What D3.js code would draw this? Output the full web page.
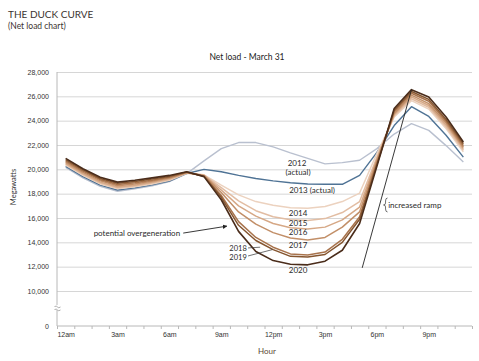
<!DOCTYPE html>
<html>
<head>
<meta charset="utf-8">
<script src="https://cdn.jsdelivr.net/npm/d3@7"></script>
<style>
  body { margin: 0; background: #fff; }
  svg { font-family: Lato, "Noto Sans", sans-serif; }
  .axis path, .axis line { stroke: #b8b8b8; }
  .axis text { fill: #333; font-size: 7px; }
  .grid line { stroke: #d6d6d6; }
  .grid path { display: none; }
</style>
</head>
<body>
<svg id="chart" width="479" height="361"></svg>
<script>
const hours = [0,1,2,3,4,5,6,7,8,9,10,11,12,13,14,15,16,17,18,19,20,21,22,23];
const hourLabels = ["12am","3am","6am","9am","12pm","3pm","6pm","9pm"];
const yTicks = [0,10000,12000,14000,16000,18000,20000,22000,24000,26000,28000];

const y2012 = [20150,19300,18600,18200,18400,18650,19000,19650,20700,21700,22200,22200,21850,21350,20900,20450,20550,20750,21700,22900,23750,23200,21950,20600];
const y2013 = [20250,19400,18700,18300,18480,18720,19040,19660,20000,19800,19500,19250,19050,18900,18800,18780,18770,19500,21400,23600,25150,24350,22800,21000];
const y2014 = [20350,19500,18800,18400,18560,18800,19100,19680,19550,18700,17900,17350,17050,16850,16800,16950,17350,18050,21300,24300,25650,24950,23350,21450];
const y2015 = [20420,19580,18880,18480,18630,18870,19160,19700,19530,18500,17400,16600,16100,15850,15800,15950,16450,17350,21000,24400,25800,25100,23500,21580];
const y2016 = [20500,19650,18950,18550,18700,18940,19220,19720,19500,18300,17000,16150,15550,15200,15100,15250,15850,16900,20850,24500,25950,25250,23650,21700];
const y2017 = [20600,19750,19050,18650,18800,19020,19280,19740,19480,18100,16500,15500,14800,14350,14200,14400,15250,16500,20700,24600,26100,25400,23800,21820];
const y2018 = [20700,19850,19150,18750,18900,19100,19350,19760,19450,17850,15700,14400,13600,13050,12950,13200,14250,16100,20500,24750,26250,25600,23950,21950];
const y2019 = [20800,19950,19250,18850,19000,19200,19420,19780,19420,17700,15400,14150,13400,12850,12800,13000,14000,15900,20400,24850,26400,25750,24100,22100];
const y2020 = [20900,20050,19350,18950,19100,19300,19500,19800,19400,17500,14900,13250,12500,12200,12150,12450,13350,15550,20250,25000,26550,25950,24300,22250];

const series = [
  { name: "2012", values: y2012, color: "#b9c0cf", width: 1.4 },
  { name: "2013", values: y2013, color: "#4f7395", width: 1.4 },
  { name: "2014", values: y2014, color: "#ecd2bf", width: 1.5 },
  { name: "2015", values: y2015, color: "#e2bda3", width: 1.5 },
  { name: "2016", values: y2016, color: "#d6a886", width: 1.5 },
  { name: "2017", values: y2017, color: "#c28f68", width: 1.5 },
  { name: "2018", values: y2018, color: "#a8734c", width: 1.5 },
  { name: "2019", values: y2019, color: "#85552f", width: 1.5 },
  { name: "2020", values: y2020, color: "#4a2c1a", width: 1.6 }
];

// annotation anchors in data units (hour, MW)
const yearLabels = [
  { text: "2012", h: 13.38, v: 20500, size: 8 },
  { text: "(actual)", h: 13.44, v: 19750, size: 8 },
  { text: "2013 (actual)", h: 14.25, v: 18300, size: 8 },
  { text: "2014", h: 13.44, v: 16420, size: 8 },
  { text: "2015", h: 13.44, v: 15560, size: 8 },
  { text: "2016", h: 13.44, v: 14820, size: 8 },
  { text: "2017", h: 13.44, v: 13740, size: 8 },
  { text: "2018", h: 9.97, v: 13520, size: 7.5 },
  { text: "2019", h: 9.97, v: 12830, size: 7.5 }, 
  { text: "2020", h: 13.44, v: 11730, size: 8 }
];
const leaders = [
  { h1: 10.55, v1: 13540, h2: 11.25, v2: 13600 },
  { h1: 10.55, v1: 12880, h2: 11.95, v2: 13400 }
];
const ramp = { h1: 17.15, v1: 11900, h2: 20, v2: 26550 };
const overgen = { h1: 6.8, v1: 14760, h2: 9.32, v2: 15330 };

const svg = d3.select("#chart");

const x = d3.scaleLinear().domain([-0.5, 23.5]).range([57, 472]);
const y = d3.scaleLinear().domain([0, 10000, 28000]).range([326, 291, 72]);

// titles
svg.append("text").attr("x", 8).attr("y", 18)
  .attr("font-size", 10).attr("fill", "#3b3330").text("THE DUCK CURVE");
svg.append("text").attr("x", 8).attr("y", 29)
  .attr("font-size", 8.5).attr("fill", "#3b3330").text("(Net load chart)");
svg.append("text").attr("x", 247).attr("y", 60).attr("text-anchor", "middle")
  .attr("font-size", 8.5).attr("fill", "#222").text("Net load - March 31");

// gridlines
svg.append("g").attr("class", "grid")
  .attr("transform", "translate(57,0)")
  .call(d3.axisLeft(y).tickValues(yTicks.filter(d => d > 0)).tickSize(-415).tickFormat(""));

// y axis
const yAxis = svg.append("g").attr("class", "axis")
  .attr("transform", "translate(57,0)")
  .call(d3.axisLeft(y).tickValues(yTicks).tickSize(0).tickPadding(8).tickFormat(d3.format(",")));
yAxis.select(".domain").remove();
svg.append("line").attr("x1", 57).attr("x2", 57).attr("y1", y(28000)).attr("y2", 326)
  .attr("stroke", "#b8b8b8");
// axis break mark
svg.append("rect").attr("x", 54).attr("y", 305).attr("width", 6).attr("height", 5).attr("fill", "#fff");
svg.append("path")
  .attr("d", "M54.5,306.5 q2,-1 3,0.5 t3,0 M54.5,309.5 q2,-1 3,0.5 t3,0")
  .attr("fill", "none").attr("stroke", "#999").attr("stroke-width", 0.8);

// x axis
const xTickAxis = svg.append("g").attr("class", "axis")
  .attr("transform", "translate(0,326)")
  .call(d3.axisBottom(x).tickValues(hours.map(h => h - 0.5).concat([23.5])).tickSize(3).tickFormat(""));
xTickAxis.select(".domain").attr("d", "M57,0H472");
svg.append("g").attr("class", "axis")
  .attr("transform", "translate(0,326)")
  .call(d3.axisBottom(x).tickValues([0,3,6,9,12,15,18,21]).tickSize(0).tickPadding(6)
    .tickFormat((d, i) => hourLabels[i]))
  .select(".domain").remove();

svg.append("text").attr("x", 267).attr("y", 354).attr("text-anchor", "middle")
  .attr("font-size", 8).attr("fill", "#5a4632").text("Hour");
svg.append("text").attr("transform", "translate(16,187) rotate(-90)")
  .attr("text-anchor", "middle").attr("font-size", 7.5).attr("fill", "#333").text("Megawatts");

// lines
const line = d3.line().x((d, i) => x(hours[i])).y(d => y(d));
svg.append("g").selectAll("path").data(series).join("path")
  .attr("d", d => line(d.values))
  .attr("fill", "none")
  .attr("stroke", d => d.color)
  .attr("stroke-width", d => d.width)
  .attr("stroke-linejoin", "round");

// year labels
svg.append("g").selectAll("text").data(yearLabels).join("text")
  .attr("x", d => x(d.h)).attr("y", d => y(d.v) + 3)
  .attr("text-anchor", "middle")
  .attr("font-size", d => d.size).attr("fill", "#2a2a2a")
  .text(d => d.text);

svg.append("g").selectAll("line").data(leaders).join("line")
  .attr("x1", d => x(d.h1)).attr("y1", d => y(d.v1))
  .attr("x2", d => x(d.h2)).attr("y2", d => y(d.v2))
  .attr("stroke", "#333").attr("stroke-width", 0.7);

// increased ramp
svg.append("line")
  .attr("x1", x(ramp.h1)).attr("y1", y(ramp.v1))
  .attr("x2", x(ramp.h2)).attr("y2", y(ramp.v2))
  .attr("stroke", "#222").attr("stroke-width", 0.9);
const bx = x(18.5), by = y(17070);
svg.append("path")
  .attr("d", `M${bx + 2},${by - 7} q-2,0 -2,3 v2 q0,2 -2,2 q2,0 2,2 v2 q0,3 2,3`)
  .attr("fill", "none").attr("stroke", "#333").attr("stroke-width", 0.7);
svg.append("text").attr("x", x(18.65)).attr("y", by + 3)
  .attr("font-size", 8).attr("fill", "#2a2a2a").text("increased ramp");

// potential overgeneration
svg.append("defs").append("marker")
  .attr("id", "arrow").attr("viewBox", "0 -4 8 8")
  .attr("refX", 7).attr("refY", 0)
  .attr("markerWidth", 5).attr("markerHeight", 5)
  .attr("orient", "auto")
  .append("path").attr("d", "M0,-4L8,0L0,4").attr("fill", "#222");
svg.append("line")
  .attr("x1", x(overgen.h1)).attr("y1", y(overgen.v1))
  .attr("x2", x(overgen.h2)).attr("y2", y(overgen.v2))
  .attr("stroke", "#222").attr("stroke-width", 0.9)
  .attr("marker-end", "url(#arrow)");
svg.append("text").attr("x", x(6.62)).attr("y", y(14770) + 3)
  .attr("text-anchor", "end")
  .attr("font-size", 8).attr("fill", "#2a2a2a").text("potential overgeneration");
</script>
</body>
</html>
